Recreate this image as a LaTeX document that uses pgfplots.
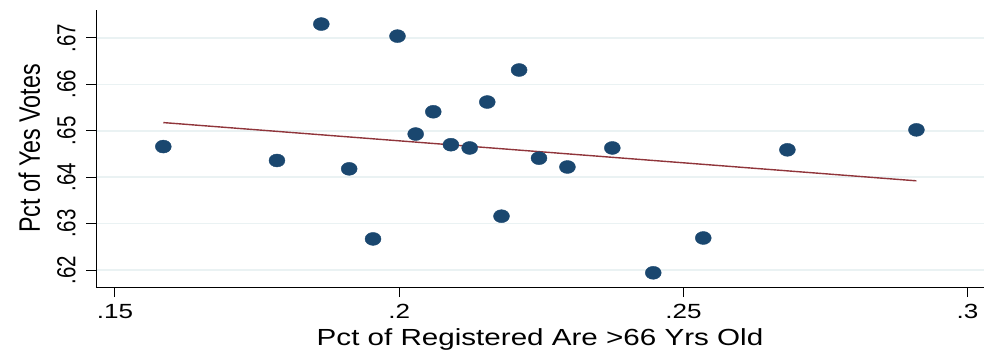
\documentclass[border=0pt]{standalone}
\usepackage{pgfplots}
\pgfplotsset{compat=1.18}
\usepackage{fontspec}
\setmainfont{Liberation Sans}
\definecolor{stnavy}{RGB}{26,71,111}
\definecolor{stmaroon}{RGB}{144,53,59}
\definecolor{stgrid}{RGB}{234,242,243}
\pgfplotstableread{
x y
0.1585 0.6466
0.1785 0.6436
0.1863 0.6730
0.1912 0.6418
0.1954 0.6267
0.1997 0.6704
0.2029 0.6493
0.2060 0.6541
0.2091 0.6470
0.2124 0.6463
0.2155 0.6562
0.2180 0.6316
0.2211 0.6631
0.2246 0.6441
0.2296 0.6422
0.2375 0.6463
0.2447 0.6194
0.2535 0.6269
0.2683 0.6459
0.2910 0.6502
}\scatterdata
\begin{document}
\begin{tikzpicture}
\useasboundingbox (0,0) rectangle (984pt,353pt);
\begin{axis}[
  at={(96pt,66pt)}, anchor=south west,
  scale only axis, width=888pt, height=277pt,
  xmin=0.14666, xmax=0.30289, ymin=0.61634, ymax=0.67603,
  axis x line*=bottom, axis y line*=left,
  axis line style={black, line width=1pt, -},
  xtick={0.15,0.2,0.25,0.3}, xticklabels={.15,.2,.25,.3},
  ytick={0.62,0.63,0.64,0.65,0.66,0.67}, yticklabels={.62,.63,.64,.65,.66,.67},
  tick align=outside, major tick length=10pt,
  tick style={black, line width=1pt},
  ymajorgrids, grid style={stgrid, line width=1.6pt},
  /pgf/number format/assume math mode=true,
  xticklabel style={font=\fontsize{20.5}{24}\selectfont, xscale=1.27},
  yticklabel style={font=\fontsize{20.5}{24}\selectfont, rotate=90, anchor=south, yscale=1.27},
  xticklabel shift=4pt, yticklabel shift=6pt,
  every axis x label/.style={at={([yshift=-58pt]axis description cs:0.5,0)}, anchor=base, font=\fontsize{23.3}{27}\selectfont, xscale=1.27},
  every axis y label/.style={at={([xshift=-56pt]axis description cs:0,0.5)}, rotate=90, anchor=base, font=\fontsize{23.3}{27}\selectfont, yscale=1.27},
  xlabel={Pct of Registered Are >66 Yrs Old},
  ylabel={Pct of Yes Votes},
]
\addplot[only marks, mark=*, mark size=6.5pt, color=stnavy, mark options={xscale=1.23, fill=stnavy, draw=stnavy}] table {\scatterdata};
\addplot[stmaroon, line width=1.4pt] coordinates {(0.1585,0.65177) (0.29098,0.63922)};
\end{axis}
\end{tikzpicture}
\end{document}
